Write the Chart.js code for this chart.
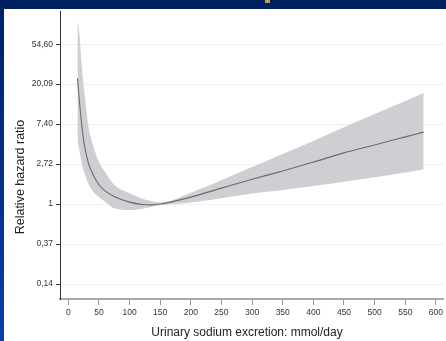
<!DOCTYPE html>
<html><head><meta charset="utf-8">
<script src="https://cdn.jsdelivr.net/npm/chart.js@4"></script>
<style>
html,body{margin:0;padding:0;width:446px;height:341px;overflow:hidden;background:#002060;}
#left{position:absolute;left:0;top:0;width:4px;height:341px;background:linear-gradient(#002060,#0c3ea6);}
#panel{position:absolute;left:4px;top:9px;width:442px;height:332px;background:#fff;}
#mark{position:absolute;left:265px;top:0;width:5px;height:3px;background:#b9a24a;}
#wrap{position:absolute;left:0;top:0;width:446px;height:341px;}
</style></head><body>
<div id="left"></div><div id="panel"></div><div id="mark"></div>
<div id="wrap"><canvas id="c"></canvas></div>
<script>
// Urinary sodium excretion (mmol/day)
const sodium = [15,18,22,26,33,40,50,60,75,100,120,135,150,200,250,300,350,400,450,500,550,580];
// Relative hazard ratio (point estimate)
const hazardRatio = [23.3,13.5,7.2,4.48,2.77,2.12,1.62,1.39,1.21,1.05,0.99,0.98,1.0,1.19,1.49,1.86,2.29,2.86,3.60,4.39,5.37,6.05];
// 95% CI upper bound
const ciUpper = [102,73.7,31.5,17.3,6.89,4.48,2.86,2.23,1.62,1.31,1.15,1.08,1.04,1.33,1.82,2.53,3.49,4.85,6.82,9.49,13.2,16.1];
// 95% CI lower bound
const ciLower = [4.95,3.86,2.77,2.23,1.65,1.39,1.19,1.06,0.90,0.86,0.89,0.93,0.97,1.04,1.16,1.30,1.42,1.57,1.75,1.95,2.20,2.39];
// Axis ticks
const xTicks = [0,50,100,150,200,250,300,350,400,450,500,550,600];
const yTickExp = [-2,-1,0,1,2,3,4];
const yTickLabels = ["0,14","0,37","1","2,72","7,40","20,09","54,60"];

const pts = arr => sodium.map((x,i)=>({x:x,y:arr[i]}));
const FONT = "'Liberation Sans', Arial, sans-serif";

const titles = {
  id:'titles',
  afterDraw(chart){
    const ctx = chart.ctx;
    ctx.save();
    ctx.fillStyle = '#222';
    ctx.font = "12px " + FONT;
    ctx.textAlign = 'center';
    ctx.textBaseline = 'middle';
    ctx.fillText('Urinary sodium excretion: mmol/day', 247, 332.5);
    ctx.translate(21, 177);
    ctx.rotate(-Math.PI/2);
    ctx.font = "12.5px " + FONT;
    ctx.fillText('Relative hazard ratio', 0, 0);
    ctx.restore();
  }
};

new Chart(document.getElementById('c'), {
  type:'line',
  data:{datasets:[
    {label:'upper', data:pts(ciUpper), fill:'+1', backgroundColor:'#cfcfd3', borderWidth:0, pointRadius:0, cubicInterpolationMode:'monotone', order:2},
    {label:'lower', data:pts(ciLower), fill:false, backgroundColor:'#cfcfd3', borderWidth:0, pointRadius:0, cubicInterpolationMode:'monotone', order:3},
    {label:'HR', data:pts(hazardRatio), fill:false, borderColor:'#69696f', borderWidth:1.1, pointRadius:0, cubicInterpolationMode:'monotone', order:0}
  ]},
  options:{
    responsive:true, maintainAspectRatio:false, animation:false,
    layout:{padding:{top:11,right:0,left:0,bottom:0}},
    plugins:{legend:{display:false}, tooltip:{enabled:false}},
    scales:{
      x:{type:'linear', min:-13.5, max:612,
        afterBuildTicks(s){ s.ticks = xTicks.map(v=>({value:v})); },
        afterFit(s){ s.height = 42; },
        grid:{drawOnChartArea:false, drawTicks:true, tickLength:6, tickColor:'#999'},
        border:{color:'#aaa', width:2},
        ticks:{color:'#333', font:{family:FONT, size:8.5}, padding:3, maxRotation:0, autoSkip:false}
      },
      y:{type:'logarithmic', min:Math.exp(-2.375), max:Math.exp(4.83),
        afterBuildTicks(s){ s.ticks = yTickExp.map(k=>({value:Math.exp(k)})); },
        afterFit(s){ s.width = 60; },
        grid:{color:'#efefef', lineWidth:1, tickLength:4, tickColor:'#333'},
        border:{color:'#333', width:1},
        ticks:{color:'#333', font:{family:FONT, size:8.5}, padding:3, autoSkip:false,
          callback:(v,i)=>yTickLabels[i]}
      }
    }
  },
  plugins:[titles]
});
</script>
</body></html>
